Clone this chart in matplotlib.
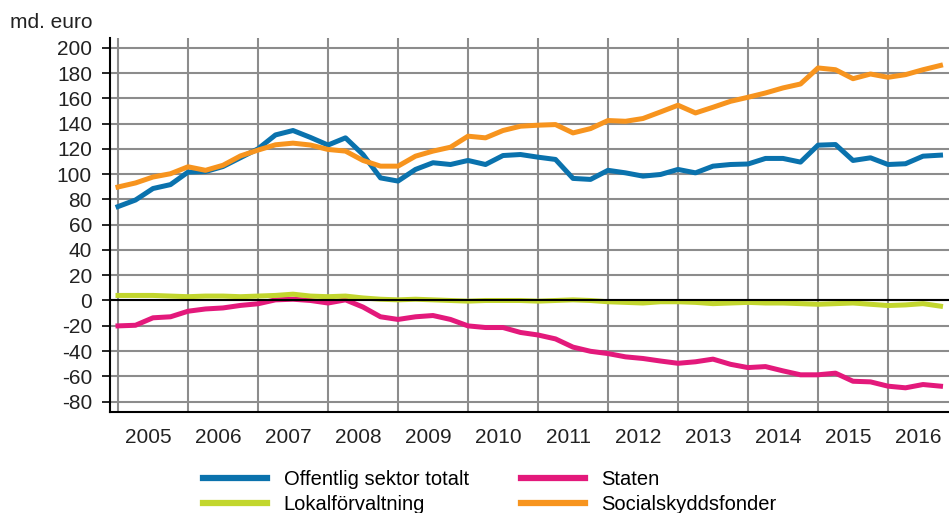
import numpy as np
import matplotlib.pyplot as plt
from matplotlib.lines import Line2D

plt.rcParams['font.family'] = ['Liberation Sans', 'DejaVu Sans']
plt.rcParams['axes.unicode_minus'] = False

# quarterly data 2005Q1 - 2016Q4, md. euro
quarters = 2005 + np.arange(48) / 4
years = list(range(2005, 2017))

totalt = [74.3, 79.5, 88.6, 91.7, 101.6, 102, 106, 113, 120, 131, 134.5, 129,
          123, 128.7, 115.5, 97, 94.5, 103.7, 109, 107.6, 110.8, 107.6, 114.7, 115.5,
          113.4, 111.6, 96.6, 95.8, 103, 101, 98.4, 99.7, 103.7, 101, 106.3, 107.6,
          108, 112.4, 112.4, 109.5, 122.9, 123.4, 110.8, 112.9, 107.6, 108.2, 114.2, 115]
staten = [-20.1, -19.6, -13.7, -12.9, -8.5, -6.7, -5.9, -3.9, -2.6, 0.5, 1, 0,
          -2, 0.5, -5.2, -12.9, -15, -12.9, -11.9, -15, -20.1, -21.4, -21.4, -25.3,
          -27.3, -30.4, -36.9, -40.2, -42, -44.6, -45.9, -47.9, -49.7, -48.5, -46.4, -50.5,
          -53.1, -52.3, -55.7, -58.8, -58.8, -57.5, -63.9, -64.4, -67.8, -69.1, -66.5, -67.8]
lokal = [4, 4, 4, 3.5, 3, 3.5, 3.5, 3, 3.5, 4, 5, 3.5,
         3, 3.5, 2, 1, 0.5, 1, 0.5, 0, -0.5, 0, 0, 0,
         -0.5, 0, 0.5, 0, -1, -1.5, -2, -1, -1, -1.5, -2.5, -2,
         -1.5, -2, -2, -2.5, -3, -2.5, -2, -3, -4, -3.5, -2.5, -4.5]
social = [89.8, 93, 97.7, 100.3, 105.8, 103, 107, 114.4, 119, 123.2, 124.5, 123,
          119.5, 118.2, 110.8, 106.3, 106.3, 114.2, 118.2, 121.3, 130, 128.7, 134.5, 137.9,
          138.7, 139.2, 132.6, 136, 142.4, 141.8, 144, 149.2, 154.5, 148.4, 152.9, 157.6,
          160.8, 164.2, 168.2, 171.3, 184, 182.6, 175.5, 179.2, 176.6, 178.7, 182.6, 186]

names = ['Offentlig sektor totalt', 'Lokalförvaltning', 'Staten', 'Socialskyddsfonder']
colors = ['#0a72ad', '#c2d62e', '#e3197b', '#f7941e']

fig = plt.figure(figsize=(9.49, 5.13), dpi=100)
ax = fig.add_axes([110 / 949, 1 - 411.7 / 513, (949 - 110) / 949, (411.7 - 38) / 513])

ax.plot(quarters, totalt, color=colors[0], lw=3.6, zorder=3)
ax.plot(quarters, staten, color=colors[2], lw=3.6, zorder=3)
ax.plot(quarters, lokal, color=colors[1], lw=3.6, zorder=3)
ax.plot(quarters, social, color=colors[3], lw=3.6, zorder=4)
ax.axhline(0, color='black', lw=1.5, zorder=5)

ax.set_xlim(2005 - 8 / 70, 2005 + (949 - 118) / 70)
ax.set_ylim(-88, 207.7)

ax.set_yticks(range(-80, 201, 20))
ax.set_xticks(years)
ax.set_xticklabels([])
ax.set_xticks([y + 0.43 for y in years], minor=True)
ax.set_xticklabels([str(y) for y in years], minor=True)
ax.tick_params(axis='x', which='both', length=0, pad=12, labelsize=15, colors='#222222')
ax.tick_params(axis='y', length=6, width=1.2, color='black', labelsize=15,
               labelcolor='#222222', pad=7)

ax.grid(True, which='major', color='#8c8c8c', lw=1.5)
ax.set_axisbelow(True)
for s in ['top', 'right']:
    ax.spines[s].set_visible(False)
for s in ['left', 'bottom']:
    ax.spines[s].set_color('black')
    ax.spines[s].set_linewidth(1.5)

fig.text(10 / 949, 1 - 28 / 513, 'md. euro', fontsize=15, color='#222222', va='baseline')

handles = [Line2D([], [], color=c, lw=4.5) for c in colors]
fig.legend(handles, names, ncol=2, loc='upper left', bbox_to_anchor=(203 / 949, 1 - 470 / 513),
           frameon=False, fontsize=14.5, handlelength=3.2, handletextpad=0.8,
           columnspacing=2.6, labelspacing=0.3, borderpad=0, borderaxespad=0)

fig.savefig('out.png', dpi=100)
